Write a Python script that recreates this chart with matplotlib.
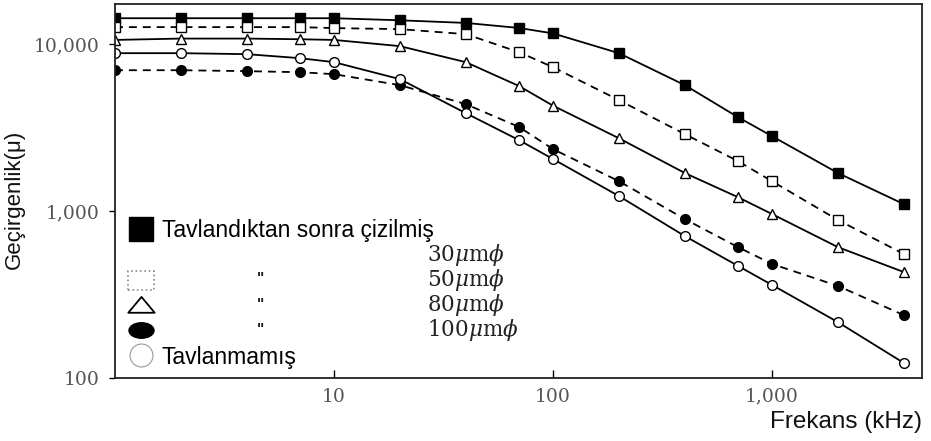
import matplotlib
matplotlib.use('Agg')
import matplotlib.pyplot as plt
from matplotlib.lines import Line2D
from matplotlib.patches import Patch
from matplotlib.path import Path
from matplotlib.ticker import NullLocator

# Values (permeability vs frequency)
freq_khz = [1, 2, 4, 7, 10, 20, 40, 70, 100, 200, 400, 700, 1000, 2000, 4000]

annealed_30 = [14300, 14300, 14300, 14300, 14300, 13900, 13400, 12500, 11600,
               8830, 5680, 3650, 2810, 1690, 1100]
annealed_50 = [12650, 12650, 12650, 12650, 12480, 12300, 11480, 8950, 7280,
               4620, 2890, 1990, 1510, 884, 553]
annealed_80 = [10600, 10800, 10800, 10700, 10600, 9730, 7800, 5610, 4280,
               2730, 1690, 1210, 960, 608, 431]
annealed_100 = [6980, 6980, 6890, 6790, 6610, 5680, 4370, 3190, 2350,
                1510, 895, 608, 482, 356, 238]
not_annealed = [8830, 8830, 8710, 8240, 7800, 6170, 3860, 2660, 2050,
                1230, 708, 469, 361, 216, 123]

x_ticks = [10, 100, 1000]
x_tick_labels = ['10', '100', '1,000']
y_ticks = [100, 1000, 10000]
y_tick_labels = ['100', '1,000', '10,000']

legend_labels = ['Tavlandıktan sonra çizilmiş', '', '', '', '', 'Tavlanmamış']
wire_sizes = [r'30$\mu$m$\phi$', r'50$\mu$m$\phi$', r'80$\mu$m$\phi$', r'100$\mu$m$\phi$']

plt.rcParams['font.family'] = ['DejaVu Serif']
plt.rcParams['mathtext.fontset'] = 'dejavuserif'

fig = plt.figure(figsize=(9.31, 4.41), dpi=100)
ax = fig.add_axes([115 / 931, 1 - 378 / 441, (922 - 115) / 931, (378 - 4) / 441])
ax.set_xscale('log')
ax.set_yscale('log')

lw = 1.3
dash = (4.4, 3.3)
ax.plot(freq_khz, annealed_30, '-', color='k', lw=lw,
        marker='s', ms=7, mfc='k', mec='k')
ax.plot(freq_khz, annealed_50, '--', dashes=dash, color='k', lw=lw,
        marker='s', ms=7, mfc='white', mec='k', mew=1)
ax.plot(freq_khz, annealed_80, '-', color='k', lw=lw,
        marker='^', ms=7, mfc='white', mec='k', mew=1)
ax.plot(freq_khz, annealed_100, '--', dashes=dash, color='k', lw=lw,
        marker='o', ms=7, mfc='k', mec='k')
ax.plot(freq_khz, not_annealed, '-', color='k', lw=lw,
        marker='o', ms=7, mfc='white', mec='k', mew=1)

ax.set_xlim(1, 4840)
ax.set_ylim(100, 17400)
ax.set_xticks(x_ticks, x_tick_labels)
ax.set_yticks(y_ticks, y_tick_labels)
ax.xaxis.set_minor_locator(NullLocator())
ax.yaxis.set_minor_locator(NullLocator())
ax.tick_params(axis='x', direction='in', length=6, width=1, pad=7,
               labelsize=13.5, labelcolor='#555555')
ax.tick_params(axis='y', direction='out', length=4, width=1, pad=7,
               labelsize=13.5, labelcolor='#555555')
for sp in ax.spines.values():
    sp.set_linewidth(1.3)
    sp.set_color('#222222')

ax.set_ylabel('Geçirgenlik(μ)', family=['Liberation Sans Narrow', 'Liberation Sans'],
              fontsize=16, color='#111111')
ax.yaxis.set_label_coords(-0.1115, 0.478)
ax.set_xlabel('Frekans (kHz)', loc='right', family='Liberation Sans',
              fontsize=17.5, color='#111111')
ax.xaxis.set_label_coords(1.0, -0.088)

# legend glyphs
tri = Path([(-1, -0.55), (1, -0.55), (0, 0.65), (-1, -0.55)],
           [Path.MOVETO, Path.LINETO, Path.LINETO, Path.CLOSEPOLY])
ell = Path.unit_circle().transformed(matplotlib.transforms.Affine2D().scale(1, 0.62))
handles = [
    Line2D([], [], ls='none', marker='s', ms=17, mfc='k', mec='k'),
    Line2D([], [], ls='none'),
    Patch(fc='white', ec='#888888', ls=':', lw=1.2),
    Line2D([], [], ls='none', marker=tri, ms=19, mfc='white', mec='k', mew=1.3),
    Line2D([], [], ls='none', marker=ell, ms=18, mfc='k', mec='k'),
    Line2D([], [], ls='none', marker='o', ms=16.5, mfc='white', mec='#999999', mew=0.8),
]
ax.legend(handles, legend_labels, loc='upper left', bbox_to_anchor=(0.0167, 0.424),
          frameon=False, prop={'family': 'Liberation Sans', 'size': 16.5},
          handlelength=1.1, handleheight=0.9, handletextpad=0.35,
          labelspacing=0.1, borderpad=0, borderaxespad=0)

for y in [0.268, 0.198, 0.130]:
    ax.text(0.180, y, '"', transform=ax.transAxes, ha='center', va='center',
            family='Liberation Sans', fontsize=11, fontweight='bold', color='#222222')

for y, lab in zip([0.328, 0.261, 0.195, 0.128], wire_sizes):
    ax.text(0.387, y, lab, transform=ax.transAxes, ha='left', va='center',
            fontsize=15.5, color='#222222')

fig.savefig('out.png', dpi=100)
